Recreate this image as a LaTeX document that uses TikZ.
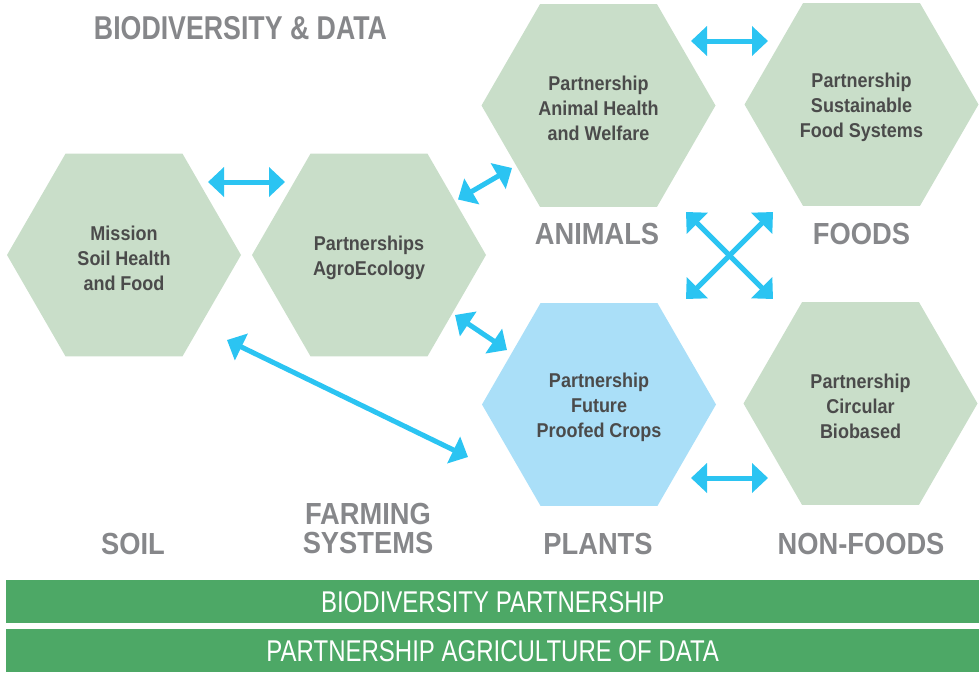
\documentclass[tikz,border=0pt]{standalone}
\usepackage{fontspec}
\setmainfont{Liberation Sans}
\newfontfamily\hexfont[FakeStretch=0.9]{Liberation Sans}
\newfontfamily\catfont[FakeStretch=0.895]{Liberation Sans}
\newfontfamily\titlefont[FakeStretch=0.81]{Liberation Sans}
\newfontfamily\barfont[FakeStretch=0.8]{Liberation Sans}
\usetikzlibrary{shapes.geometric,arrows.meta}
\definecolor{hexgreen}{HTML}{C9DEC9}
\definecolor{hexblue}{HTML}{AADFF8}
\definecolor{arrowblue}{HTML}{2BC4F2}
\definecolor{catgray}{HTML}{86878A}
\definecolor{hextext}{HTML}{4B4B4B}
\definecolor{bargreen}{HTML}{4DA866}
\begin{document}
\begin{tikzpicture}[x=1pt,y=-1pt,
  hexnode/.style={regular polygon, regular polygon sides=6, minimum size=234pt,
    inner sep=0pt, outer sep=0pt, fill=hexgreen},
  hexlabel/.style={text=hextext, align=center, inner sep=0pt,
    font=\hexfont\bfseries\fontsize{20}{25}\selectfont},
  catlabel/.style={text=catgray, align=center, inner sep=0pt,
    font=\catfont\bfseries\fontsize{30.5}{29.5}\selectfont},
  barnode/.style={fill=bargreen, minimum width=973pt, minimum height=43pt,
    inner sep=0pt, anchor=north west, text=white,
    font=\barfont\fontsize{30}{30}\selectfont},
  link/.style={draw=arrowblue, line width=5pt,
    {Triangle[length=16pt,width=29pt]}-{Triangle[length=16pt,width=29pt]}}]
\useasboundingbox (0,0) rectangle (979,672);

% hexagons
\node[hexnode] (soil) at (124,255) {};
\node[hexnode] (agro) at (369,255) {};
\node[hexnode] (animal) at (598.5,105.5) {};
\node[hexnode] (food) at (861.5,104.5) {};
\node[hexnode, fill=hexblue] (crops) at (599,404.5) {};
\node[hexnode] (circ) at (860.5,403.5) {};

\node[hexlabel] (soil-t) at ([yshift=-3pt]soil.center) {Mission\\Soil Health\\and Food};
\node[hexlabel] (agro-t) at ([yshift=-2.5pt]agro.center) {Partnerships\\AgroEcology};
\node[hexlabel] (animal-t) at ([yshift=-3pt]animal.center) {Partnership\\Animal Health\\and Welfare};
\node[hexlabel] (food-t) at ([yshift=-3pt]food.center) {Partnership\\Sustainable\\Food Systems};
\node[hexlabel] (crops-t) at ([yshift=-3pt]crops.center) {Partnership\\Future\\Proofed Crops};
\node[hexlabel] (circ-t) at ([yshift=-3pt]circ.center) {Partnership\\Circular\\Biobased};

% labels
\node[catlabel, font=\titlefont\bfseries\fontsize{33}{33}\selectfont] (title) at (240.5,28.5) {BIODIVERSITY \& DATA};
\node[catlabel] (lanimals) at (597,233.5) {ANIMALS};
\node[catlabel] (lfoods) at (861.5,233.5) {FOODS};
\node[catlabel] (lsoil) at (133,543.5) {SOIL};
\node[catlabel] (lfarm) at (368,528.5) {FARMING\\SYSTEMS};
\node[catlabel] (lplants) at (598,543.5) {PLANTS};
\node[catlabel] (lnonfood) at (861,543.5) {NON-FOODS};

% bars
\node[barnode] (bar1) at (6,580) {BIODIVERSITY PARTNERSHIP};
\node[barnode] (bar2) at (6,629) {PARTNERSHIP AGRICULTURE OF DATA};

% arrow end points
\coordinate (a1) at (208,182);
\coordinate (a2) at (285,182);
\coordinate (b1) at (691,41);
\coordinate (b2) at (768,41);
\coordinate (c1) at (691,478);
\coordinate (c2) at (768,478);
\coordinate (d1) at (458,199.5);
\coordinate (d2) at (512,168);
\coordinate (e1) at (455,315);
\coordinate (e2) at (507,350);
\coordinate (f1) at (227,340);
\coordinate (f2) at (468,457);
\coordinate (x1) at (686,212);
\coordinate (x2) at (773,299);
\coordinate (x3) at (773,212);
\coordinate (x4) at (686,299);

\draw[link] (a1) -- (a2);
\draw[link] (b1) -- (b2);
\draw[link] (c1) -- (c2);
\draw[link] (d1) -- (d2);
\draw[link] (e1) -- (e2);
\draw[link] (f1) -- (f2);
\draw[link] (x1) -- (x2);
\draw[link] (x3) -- (x4);
\end{tikzpicture}
\end{document}
